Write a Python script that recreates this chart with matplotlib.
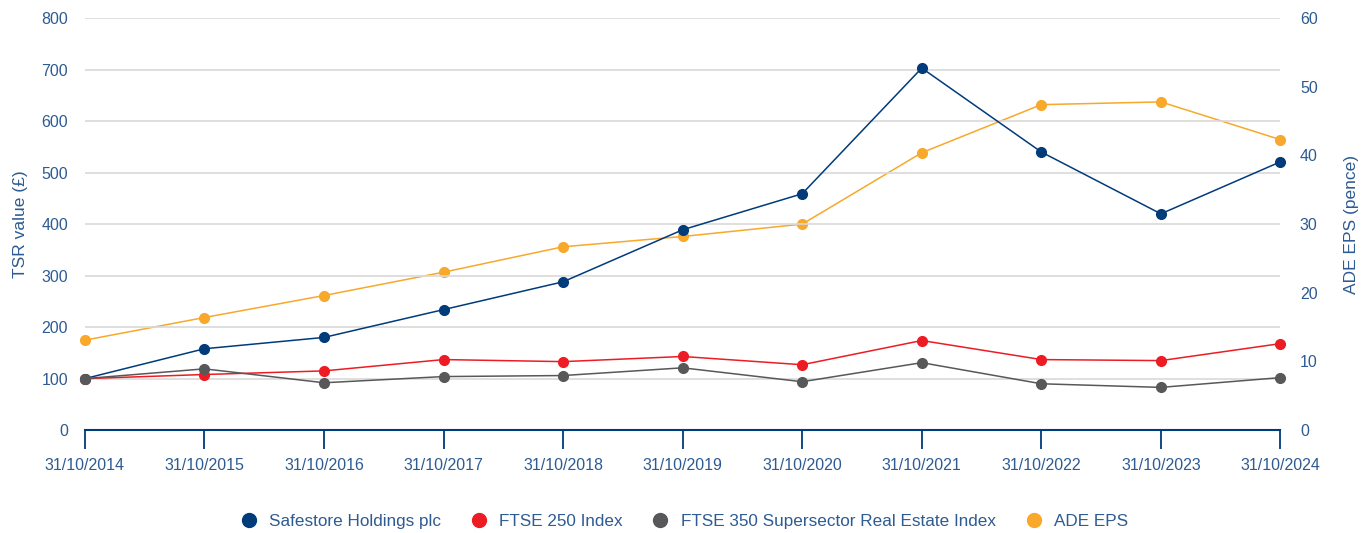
import matplotlib.pyplot as plt
from matplotlib.lines import Line2D

plt.rcParams['font.family'] = ['Liberation Sans', 'DejaVu Sans']

dates = ['31/10/2014', '31/10/2015', '31/10/2016', '31/10/2017', '31/10/2018', '31/10/2019',
         '31/10/2020', '31/10/2021', '31/10/2022', '31/10/2023', '31/10/2024']
safestore = [100, 158, 180, 234, 288, 389, 459, 703, 540, 420, 521]
ftse250 = [100, 108, 115, 137, 133, 143, 127, 174, 137, 135, 168]
ftse350_re = [100, 119, 92, 104, 106, 121, 94, 131, 90, 83, 102]
ade_eps = [13.1, 16.4, 19.6, 23.0, 26.7, 28.2, 30.0, 40.4, 47.4, 47.8, 42.3]

navy = '#003b7a'
red = '#ed1c24'
grey = '#58585a'
orange = '#f8a82b'
txt = '#2d5b92'

fig, ax = plt.subplots(figsize=(13.68, 5.33), dpi=100)
fig.subplots_adjust(left=0.062, right=0.936, top=0.966, bottom=0.193)
ax2 = ax.twinx()

x = list(range(len(dates)))

ax2.plot(x, ade_eps, '-o', color=orange, lw=1.1, ms=7, clip_on=False)

ax.plot(x, safestore, '-o', color=navy, lw=1.1, ms=7, clip_on=False)
ax.plot(x, ftse250, '-o', color=red, lw=1.1, ms=7, clip_on=False)
ax.plot(x, ftse350_re, '-o', color=grey, lw=1.1, ms=7, clip_on=False)

# left axis on top so the TSR lines sit above the EPS line
ax.set_zorder(ax2.get_zorder() + 1)
ax.patch.set_visible(False)

ax.set_xlim(0, 10)
ax.set_ylim(0, 800)
ax2.set_ylim(0, 60)
ax.set_yticks(range(0, 801, 100))
ax2.set_yticks(range(0, 61, 10))
ax.set_xticks(x)
ax.set_xticklabels(dates)

ax.grid(axis='y', color='#d9d9d9', lw=1.2)
ax.set_axisbelow(True)
ax.grid(axis='x', visible=False)

for a in (ax, ax2):
    for s in ('top', 'left', 'right', 'bottom'):
        a.spines[s].set_visible(False)
ax.spines['bottom'].set_visible(True)
ax.spines['bottom'].set_color(navy)
ax.spines['bottom'].set_linewidth(1.5)

ax.tick_params(axis='x', length=14, width=1.3, color=navy, labelcolor=txt, labelsize=11.5, pad=6)
ax.tick_params(axis='y', length=0, labelcolor=txt, labelsize=11.5, pad=12)
ax2.tick_params(axis='y', length=0, labelcolor=txt, labelsize=11.5, pad=14)

ax.set_ylabel('TSR value (£)', color=txt, fontsize=12.5, labelpad=10)
ax2.set_ylabel('ADE EPS (pence)', color=txt, fontsize=12.5, labelpad=19)

handles = [Line2D([], [], ls='none', marker='o', ms=10, color=c) for c in (navy, red, grey, orange)]
labels = ['Safestore Holdings plc', 'FTSE 250 Index', 'FTSE 350 Supersector Real Estate Index', 'ADE EPS']
leg = fig.legend(handles, labels, loc='center', bbox_to_anchor=(0.497, 0.021), ncol=4, frameon=False,
                 fontsize=12.3, handletextpad=0.2, columnspacing=1.2)
for t in leg.get_texts():
    t.set_color(txt)

fig.savefig('out.png', dpi=100)
